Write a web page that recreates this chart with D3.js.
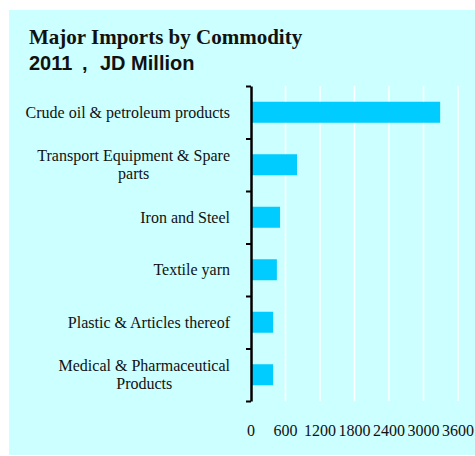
<!DOCTYPE html>
<html>
<head>
<script src="https://d3js.org/d3.v7.min.js"></script>
<style>
  body { margin: 0; background: #fff; }
  svg text { fill: #111; }
  .lab { font-family: "Liberation Serif", "Times New Roman", serif; font-size: 16px; }
</style>
</head>
<body>
<div id="chart"></div>
<script>
// data (JD Million, 2011)
var categories = ["Crude oil & petroleum products", "Transport Equipment & Spare parts",
  "Iron and Steel", "Textile yarn", "Plastic & Articles thereof", "Medical & Pharmaceutical Products"];
var labelLines = [["Crude oil & petroleum products"], ["Transport Equipment & Spare", "parts"],
  ["Iron and Steel"], ["Textile yarn"], ["Plastic & Articles thereof"], ["Medical & Pharmaceutical", "Products"]];
var values = [3290, 800, 505, 450, 385, 385];
var xTicks = [0, 600, 1200, 1800, 2400, 3000, 3600];

var W = 475, H = 456;
var svg = d3.select("#chart").append("svg").attr("width", W).attr("height", H);

svg.append("rect").attr("x", 9).attr("y", 10).attr("width", W - 9).attr("height", 445)
  .style("fill", "#ccffff");

// titles
svg.append("text").attr("x", 29).attr("y", 44)
  .style("font-family", "Liberation Serif, serif").style("font-weight", "bold").style("font-size", "21px")
  .text("Major Imports by Commodity");
var sub = svg.append("text").attr("y", 70)
  .style("font-family", "Liberation Sans, Arial, sans-serif").style("font-weight", "bold").style("font-size", "20px");
sub.append("tspan").attr("x", 29).text("2011");
sub.append("tspan").attr("x", 82).text(",");
sub.append("tspan").attr("x", 100).text("JD Million");

var x = d3.scaleLinear().domain([0, 3600]).range([251, 458]);
var y = d3.scaleBand().domain(categories).range([86, 401]).paddingInner(0.6).paddingOuter(0.3);
var yEdge = d3.scaleLinear().domain([0, categories.length]).range([86, 401]);

// white gridlines
svg.append("g").selectAll("line").data(xTicks).enter().append("line")
  .attr("x1", function(d) { return x(d); }).attr("x2", function(d) { return x(d); })
  .attr("y1", 86).attr("y2", 401)
  .style("stroke", "#fff").style("stroke-width", 1.5);

// bars
svg.append("g").selectAll("rect").data(values).enter().append("rect")
  .attr("x", x(0))
  .attr("y", function(d, i) { return y(categories[i]); })
  .attr("width", function(d) { return x(d) - x(0); })
  .attr("height", y.bandwidth())
  .style("fill", "#00ccff");

// y axis, ticks between categories
var yAxis = svg.append("g").attr("transform", "translate(" + x(0) + ",0)")
  .call(d3.axisLeft(yEdge).tickValues(d3.range(categories.length + 1)).tickFormat("").tickSize(5).tickSizeOuter(0));
yAxis.select(".domain").style("stroke", "#000").style("stroke-width", 2.5);
yAxis.selectAll(".tick line").style("stroke", "#000").style("stroke-width", 2);

// category labels, centred lines, block right aligned
labelLines.forEach(function(lines, i) {
  var cy = y(categories[i]) + y.bandwidth() / 2;
  var t = svg.append("text").attr("class", "lab").attr("text-anchor", "middle");
  var spans = lines.map(function(s, j) {
    return t.append("tspan").attr("y", cy + (j - (lines.length - 1) / 2) * 18).attr("dy", "0.35em").text(s);
  });
  var w = d3.max(spans, function(s) { return s.node().getComputedTextLength(); });
  spans.forEach(function(s) { s.attr("x", 230 - w / 2); });
});

// x tick labels
svg.append("g").selectAll("text").data(xTicks).enter().append("text")
  .attr("class", "lab").attr("text-anchor", "middle")
  .attr("x", function(d) { return x(d); }).attr("y", 430).attr("dy", "0.35em")
  .text(function(d) { return d; });
</script>
</body>
</html>
